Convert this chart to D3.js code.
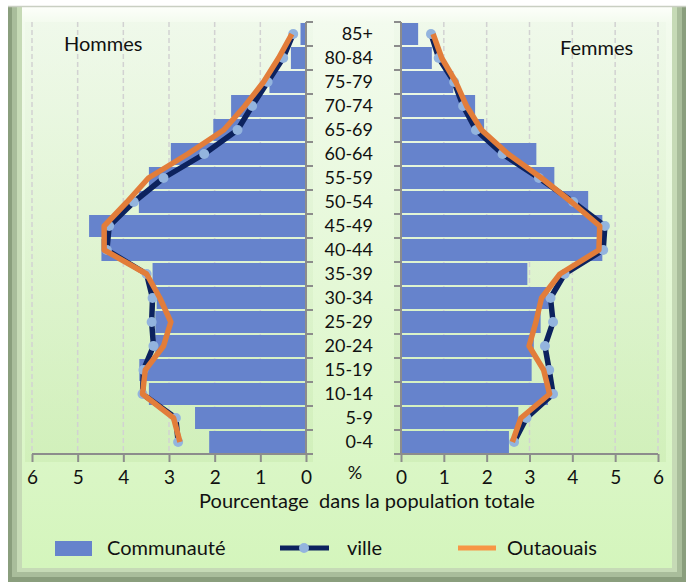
<!DOCTYPE html>
<html>
<head>
<meta charset="utf-8">
<script src="https://cdn.jsdelivr.net/npm/d3@7"></script>
<style>
  body { margin: 0; background: #fff; }
  text { font-family: Lato, "Open Sans", sans-serif; fill: #111; }
</style>
</head>
<body>
<div id="chart"></div>
<script>
// age groups, bottom to top
var ages = ["0-4", "5-9", "10-14", "15-19", "20-24", "25-29", "30-34", "35-39", "40-44",
  "45-49", "50-54", "55-59", "60-64", "65-69", "70-74", "75-79", "80-84", "85+"];

var hommesCommunaute = [2.12, 2.43, 3.44, 3.65, 3.3, 3.3, 3.27, 3.36, 4.48, 4.75, 3.66, 3.44, 2.96, 2.03, 1.64, 0.8, 0.33, 0.12];
var hommesVille      = [2.8, 2.85, 3.58, 3.56, 3.34, 3.38, 3.36, 3.49, 4.36, 4.31, 3.77, 3.12, 2.23, 1.5, 1.18, 0.84, 0.5, 0.28];
var hommesOutaouais  = [2.76, 2.9, 3.58, 3.52, 3.12, 2.96, 3.2, 3.49, 4.42, 4.42, 3.92, 3.45, 2.59, 1.8, 1.34, 0.93, 0.6, 0.31];

var femmesCommunaute = [2.52, 2.74, 3.43, 3.05, 3.1, 3.26, 3.45, 2.95, 4.7, 4.7, 4.37, 3.58, 3.16, 1.94, 1.73, 1.22, 0.72, 0.4];
var femmesVille      = [2.64, 2.93, 3.55, 3.46, 3.36, 3.55, 3.49, 3.82, 4.72, 4.76, 4.02, 3.22, 2.37, 1.75, 1.45, 1.24, 0.88, 0.7];
var femmesOutaouais  = [2.6, 2.8, 3.47, 3.33, 2.99, 3.15, 3.28, 3.71, 4.62, 4.64, 3.98, 3.28, 2.5, 1.88, 1.53, 1.28, 0.95, 0.75];

var xTicks = [0, 1, 2, 3, 4, 5, 6];

var BAR = '#6683cc';
var NAVY = '#0c225e';
var DOT = '#93b4de';
var ORANGE = '#e27d3a';
var ORANGE_LEG = '#f79646';

var W = 689, H = 582;
var svg = d3.select('#chart').append('svg')
  .attr('width', W).attr('height', H);

var defs = svg.append('defs');
var g1 = defs.append('linearGradient').attr('id', 'bg')
  .attr('x1', 0).attr('y1', 0).attr('x2', 0).attr('y2', 1);
g1.append('stop').attr('offset', '0%').attr('stop-color', '#fdfffb');
g1.append('stop').attr('offset', '3%').attr('stop-color', '#f3fbee');
g1.append('stop').attr('offset', '100%').attr('stop-color', '#d4f5bc');

var g2 = defs.append('linearGradient').attr('id', 'plotbg')
  .attr('x1', 0).attr('y1', 0).attr('x2', 0).attr('y2', 1);
g2.append('stop').attr('offset', '0%').attr('stop-color', '#eef8e9');
g2.append('stop').attr('offset', '100%').attr('stop-color', '#cdedb5');

// frame with bevel on left, right and bottom
svg.append('rect').attr('x', 8).attr('y', 6).attr('width', 678).attr('height', 576).attr('fill', '#8a9e7d');
svg.append('rect').attr('x', 12).attr('y', 6).attr('width', 670).attr('height', 571).attr('fill', '#a9bd9b');
svg.append('rect').attr('x', 17).attr('y', 6).attr('width', 660).attr('height', 566).attr('fill', '#c6dab6');
svg.append('rect').attr('x', 22).attr('y', 6).attr('width', 650).attr('height', 562).attr('fill', 'url(#bg)');
svg.append('line').attr('x1', 8).attr('x2', 686).attr('y1', 6.5).attr('y2', 6.5)
  .attr('stroke', '#c9cfc2').attr('stroke-width', 1.5);

var y = d3.scaleBand().domain(ages.slice().reverse()).range([22, 454]).padding(0);
var bw = y.bandwidth();
var xL = d3.scaleLinear().domain([0, 6]).range([306, 32]);
var xR = d3.scaleLinear().domain([0, 6]).range([401, 658]);

// plot backgrounds
svg.append('rect').attr('x', 25).attr('y', 22).attr('width', 288).attr('height', 440).attr('fill', 'url(#plotbg)').attr('opacity', 0.7);
svg.append('rect').attr('x', 394).attr('y', 22).attr('width', 272).attr('height', 440).attr('fill', 'url(#plotbg)').attr('opacity', 0.7);

function panel(x, communaute, ville, outaouais, side) {
  var g = svg.append('g');

  // grid
  g.selectAll('.grid').data(xTicks.filter(function(t) { return t > 0; }))
    .enter().append('line')
    .attr('x1', function(d) { return x(d); }).attr('x2', function(d) { return x(d); })
    .attr('y1', 22).attr('y2', 454)
    .attr('stroke', '#d2d2d2').attr('stroke-width', 1.5).attr('stroke-dasharray', '5,3');

  // bars
  g.selectAll('.bar').data(ages)
    .enter().append('rect')
    .attr('x', function(d, i) { return Math.min(x(0), x(communaute[i])); })
    .attr('y', function(d) { return y(d) + 1; })
    .attr('width', function(d, i) { return Math.abs(x(communaute[i]) - x(0)); })
    .attr('height', bw - 2)
    .attr('fill', BAR);

  // category axis
  var x0 = x(0);
  var dir = side === 'left' ? 1 : -1;
  g.append('line').attr('x1', x0).attr('x2', x0).attr('y1', 22).attr('y2', 454)
    .attr('stroke', '#8c8c8c').attr('stroke-width', 2);
  g.selectAll('.ctick').data(ages.concat(['end']))
    .enter().append('line')
    .attr('x1', x0).attr('x2', x0 + dir * 7)
    .attr('y1', function(d) { return d === 'end' ? 454 : y(d); })
    .attr('y2', function(d) { return d === 'end' ? 454 : y(d); })
    .attr('stroke', '#8c8c8c').attr('stroke-width', 2);

  // value axis
  var ax = g.append('g').attr('transform', 'translate(0,454)')
    .call(d3.axisBottom(x).tickValues(xTicks).tickFormat(d3.format('d')).tickSize(8).tickPadding(9));
  ax.select('.domain').remove();
  ax.selectAll('line').attr('stroke', '#8c8c8c').attr('stroke-width', 2);
  ax.selectAll('text').attr('font-size', 19).attr('font-family', 'Lato, sans-serif').attr('fill', '#111');
  g.append('line').attr('x1', x(6)).attr('x2', x0 + dir * 7).attr('y1', 454).attr('y2', 454)
    .attr('stroke', '#8c8c8c').attr('stroke-width', 2);

  var line = d3.line()
    .x(function(d) { return x(d.v); })
    .y(function(d) { return y(d.a) + bw / 2; });

  var villePts = ages.map(function(a, i) { return {a: a, v: ville[i]}; });
  var outPts = ages.map(function(a, i) { return {a: a, v: outaouais[i]}; });

  g.append('path').datum(villePts).attr('d', line)
    .attr('fill', 'none').attr('stroke', NAVY).attr('stroke-width', 5.5).attr('stroke-linejoin', 'round');
  g.selectAll('.dot').data(villePts)
    .enter().append('circle')
    .attr('cx', function(d) { return x(d.v); })
    .attr('cy', function(d) { return y(d.a) + bw / 2; })
    .attr('r', 5).attr('fill', DOT);
  g.append('path').datum(outPts).attr('d', line)
    .attr('fill', 'none').attr('stroke', ORANGE).attr('stroke-width', 5.5).attr('stroke-linejoin', 'round');
}

panel(xL, hommesCommunaute, hommesVille, hommesOutaouais, 'left');
panel(xR, femmesCommunaute, femmesVille, femmesOutaouais, 'right');

// age labels in the middle
svg.selectAll('.age').data(ages)
  .enter().append('text')
  .attr('x', 373)
  .attr('y', function(d) { return y(d) + bw / 2; })
  .attr('dy', '0.36em')
  .attr('text-anchor', 'end')
  .attr('font-size', 18)
  .text(function(d) { return d; });

svg.append('text').attr('x', 355).attr('y', 479).attr('text-anchor', 'middle')
  .attr('font-size', 18).text('%');

svg.append('text').attr('x', 64).attr('y', 51).attr('font-size', 20).text('Hommes');
svg.append('text').attr('x', 560).attr('y', 55).attr('font-size', 20).text('Femmes');

svg.append('text').attr('x', 367).attr('y', 508).attr('text-anchor', 'middle')
  .attr('font-size', 20).attr('xml:space', 'preserve')
  .text('Pourcentage  dans la population totale');

// legend
var leg = svg.append('g');
leg.append('rect').attr('x', 55).attr('y', 541).attr('width', 37).attr('height', 15).attr('fill', BAR);
leg.append('text').attr('x', 107).attr('y', 555).attr('font-size', 20).text('Communauté');
leg.append('line').attr('x1', 280).attr('x2', 329).attr('y1', 548).attr('y2', 548)
  .attr('stroke', NAVY).attr('stroke-width', 5);
leg.append('circle').attr('cx', 304).attr('cy', 548).attr('r', 5).attr('fill', DOT);
leg.append('text').attr('x', 347).attr('y', 555).attr('font-size', 20).text('ville');
leg.append('line').attr('x1', 458).attr('x2', 496).attr('y1', 548).attr('y2', 548)
  .attr('stroke', ORANGE_LEG).attr('stroke-width', 5);
leg.append('text').attr('x', 507).attr('y', 555).attr('font-size', 20).text('Outaouais');
</script>
</body>
</html>
